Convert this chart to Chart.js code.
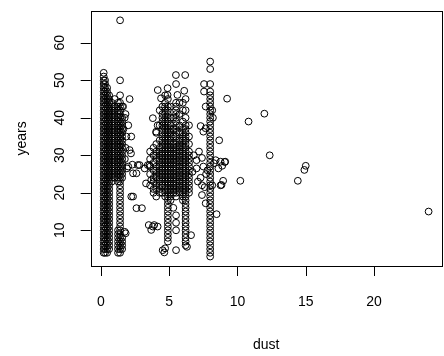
<!DOCTYPE html>
<html>
<head>
<meta charset="utf-8">
<script src="https://cdn.jsdelivr.net/npm/chart.js@4"></script>
<style>
  html, body { margin: 0; padding: 0; background: #fff; overflow: hidden; }
  #wrap { position: relative; width: 446px; height: 356px; }
</style>
</head>
<body>
<div id="wrap"><canvas id="dustChart"></canvas></div>
<script>
// dust levels that show up as vertical stacks of points, with the years at each level
const columnDust = [0.2, 0.3, 0.45, 0.6, 0.8, 1.0, 1.25, 1.4, 1.55,
  3.6, 3.85, 4.05, 4.3, 4.5, 4.7, 4.9, 5.1, 5.3, 5.5, 5.75, 6.0, 6.2, 6.45, 8.0];
const columnYears = [
  [4,5,6,7,8,9,10,11,12,13,14,15,16,17,18,19,20,21,22,23,24,25,26,27,28,29,30,31,32,33,34,35,36,37,38,39,40,41,42,43,44,45,46,47,48,49,50,51,52],
  [4,5,6,7,8,9,10,11,12,13,14,15,16,17,18,19,20,21,22,23,24,25,26,27,28,29,30,31,32,33,34,35,36,37,38,39,40,41,42,43,44,45,46,47,48,49,50],
  [4,5,6,7,8,9,10,11,12,13,14,15,16,17,18,19,20,21,22,23,24,25,26,27,28,29,30,31,32,33,34,35,36,37,38,39,40,41,42,43,44,45,46,47,48],
  [5,6,7,8,9,10,11,12,13,14,15,16,17,18,19,20,21,22,23,24,25,26,27,28,29,30,31,32,33,34,35,36,37,38,39,40,41,42,43,44,45,46],
  [23,24,25,26,27,28,29,30,31,32,33,34,35,36,37,38,39,40,41,42,43,44],
  [24,25,26,27,28,29,30,31,32,33,34,35,36,37,38,39,40,41,42,43,45],
  [4,5,6,7,8,9,10,23,24,25,26,27,28,29,30,31,32,33,34,35,36,37,38,39,40,41,42,43,44],
  [4,5,6,7,8,9,10,11,12,13,14,15,16,17,18,19,20,21,22,23,24,25,26,27,28,29,30,31,32,33,34,35,36,37,38,39,40,41,42,43,44,46,50,66],
  [5,6,7,8,24,25,26,27,28,29,30,31,32,33,34,35,36,37,38,39,40,43],
  [22,25,27,29,31],
  [20,21,23,24,26,28,30,32],
  [19,21,22,24,25,26,27,29,30,31,33,36],
  [20,21,22,23,24,25,26,27,28,29,30,31,32,34,38,42],
  [20,22,23,24,25,26,27,28,29,30,31,32,33,34,35,36,37,38,39,40,41,43],
  [19,20,21,22,23,24,25,26,27,28,29,30,31,32,33,34,35,36,37,38,39,40,41,42,43,44,46],
  [7,8,9,10,11,12,13,14,15,16,17,18,19,20,21,22,23,24,25,26,27,28,29,30,31,32,33,34,35,36,37,38,39,40,41,42,43,45],
  [18,19,20,21,22,23,24,25,26,27,28,29,30,31,32,33,34,35,36,37,38,40,43],
  [20,21,22,23,24,25,26,27,28,29,30,31,32,33,35,37,40],
  [19,20,21,22,23,24,25,26,27,28,29,30,31,32,33,34,35,36,37,38,39,40,41,42,43,44,49],
  [20,21,22,23,24,25,26,27,28,29,30,31,32,33,34,36,38,41,44],
  [18,19,20,21,22,23,24,25,26,27,28,29,30,31,32,33,34,35,36,37,39,42,44],
  [6,7,8,9,10,11,12,13,14,15,16,17,18,19,20,21,22,23,24,25,26,27,28,29,30,31,32,33,34,35,36,37,38,40,42,45],
  [20,21,22,23,24,25,26,27,28,29,30,31,33,35,38],
  [3,4,5,6,7,8,9,10,11,12,13,14,15,16,17,18,19,20,21,22,23,24,25,26,27,28,29,30,31,32,33,34,35,36,37,38,39,40,41,42,43,44,45,46,47,49,53,55]
];

// the loose points between and around the stacks
const extraDust = [
  2.1, 1.62, 1.74, 1.86, 2.22, 1.65, 2.1, 2.2, 1.8, 1.75, 2.0, 2.3, 2.7, 2.35, 2.6, 2.83, 3.2, 3.43, 1.9, 2.0, 1.8,
  3.55, 3.68, 3.3, 2.22, 2.35, 2.6, 3.0, 1.74, 1.81, 3.5, 3.8, 4.15, 3.68, 3.9,
  5.49, 6.17, 4.16, 4.88, 6.1, 4.88, 5.6, 3.8, 4.04, 4.4, 4.15,
  4.52, 4.64, 5.5, 6.3, 6.6, 5.5, 5.5, 5.5, 5.3, 4.7,
  7.55, 7.55, 7.67, 8.15, 8.2, 7.3, 7.5, 7.67, 7.18, 7.0, 7.4, 7.3, 7.7, 7.5, 7.8, 7.4, 7.6, 6.7, 7.0, 6.8, 7.1,
  8.4, 8.76, 9.1, 8.27, 8.6, 8.76, 8.15, 7.4, 7.67, 8.47, 9.24, 10.81, 11.97, 12.36, 10.21, 14.42, 14.9, 15.0,
  8.66, 9.07, 8.88, 8.95, 8.83, 24
];
const extraYears = [
  45, 43, 40, 35, 35, 37, 31.4, 30.5, 32, 29, 27, 27.5, 27.4, 25.2, 25.2, 27.4, 26.5, 27.4, 26.5, 38, 41,
  27.4, 23.4, 22.5, 19, 19, 15.9, 15.9, 9.6, 9.2, 11.4, 11, 11, 10.1, 11.4,
  51.4, 51.4, 47.4, 47.9, 47.2, 46.1, 46.1, 39.9, 36.3, 45.2, 38,
  4.7, 4.1, 4.7, 5.6, 8.7, 14, 12, 10, 16, 5.2,
  49, 47, 43, 42, 40, 37.8, 36.3, 37.2, 31, 28.7, 29.3, 24, 25, 27, 26, 22, 21.5, 25.6, 26.5, 30, 23,
  28.7, 28.3, 28.3, 27.9, 26.5, 22, 22, 19.4, 17.2, 14.3, 45.1, 39, 41.1, 30, 23.2, 23.2, 26.1, 27.2,
  34, 28.2, 27.2, 23.2, 22.1, 15
];

const xTicks = [0, 5, 10, 15, 20];
const yTicks = [10, 20, 30, 40, 50, 60];

const points = [];
columnDust.forEach((d, i) => {
  columnYears[i].forEach(y => points.push({ x: d, y: y }));
});
extraDust.forEach((d, i) => points.push({ x: d, y: extraYears[i] }));

const font = '14px "Liberation Sans", Arial, sans-serif';

// R style box, ticks and labels
const rAxes = {
  id: 'rAxes',
  afterDraw(chart) {
    const { ctx, chartArea: a, scales: { x, y } } = chart;
    ctx.save();
    ctx.strokeStyle = '#000';
    ctx.lineWidth = 1;
    ctx.strokeRect(Math.round(a.left) + 0.5, Math.round(a.top) + 0.5,
      Math.round(a.right - a.left), Math.round(a.bottom - a.top));

    ctx.fillStyle = '#000';
    ctx.font = font;
    ctx.textAlign = 'center';
    ctx.textBaseline = 'middle';

    ctx.beginPath();
    xTicks.forEach(v => {
      const px = Math.round(x.getPixelForValue(v)) + 0.5;
      ctx.moveTo(px, a.bottom);
      ctx.lineTo(px, a.bottom + 10);
    });
    yTicks.forEach(v => {
      const py = Math.round(y.getPixelForValue(v)) + 0.5;
      ctx.moveTo(a.left, py);
      ctx.lineTo(a.left - 10, py);
    });
    ctx.stroke();

    xTicks.forEach(v => {
      ctx.fillText(String(v), x.getPixelForValue(v), 302);
    });
    yTicks.forEach(v => {
      ctx.save();
      ctx.translate(60, y.getPixelForValue(v));
      ctx.rotate(-Math.PI / 2);
      ctx.fillText(String(v), 0, 0);
      ctx.restore();
    });

    ctx.fillText('dust', (a.left + a.right) / 2, 345);
    ctx.save();
    ctx.translate(22, (a.top + a.bottom) / 2);
    ctx.rotate(-Math.PI / 2);
    ctx.fillText('years', 0, 0);
    ctx.restore();
    ctx.restore();
  }
};

const ctx = document.getElementById('dustChart').getContext('2d');
const dustChart = new Chart(ctx, {
  type: 'scatter',
  data: {
    datasets: [{
      label: 'years',
      data: points,
      pointStyle: 'circle',
      pointRadius: 3.4,
      pointBorderWidth: 1,
      pointBorderColor: '#000',
      pointBackgroundColor: 'rgba(0,0,0,0)',
      pointHoverRadius: 3.4
    }]
  },
  options: {
    responsive: true,
    maintainAspectRatio: false,
    animation: false,
    layout: {
      padding: { left: 90.7, top: 10.85, right: 1.1, bottom: 90 }
    },
    plugins: {
      legend: { display: false },
      tooltip: { enabled: false }
    },
    scales: {
      x: { type: 'linear', min: -0.752, max: 24.952, display: false },
      y: { type: 'linear', min: 0.48, max: 68.52, display: false }
    }
  },
  plugins: [rAxes]
});
</script>
</body>
</html>
